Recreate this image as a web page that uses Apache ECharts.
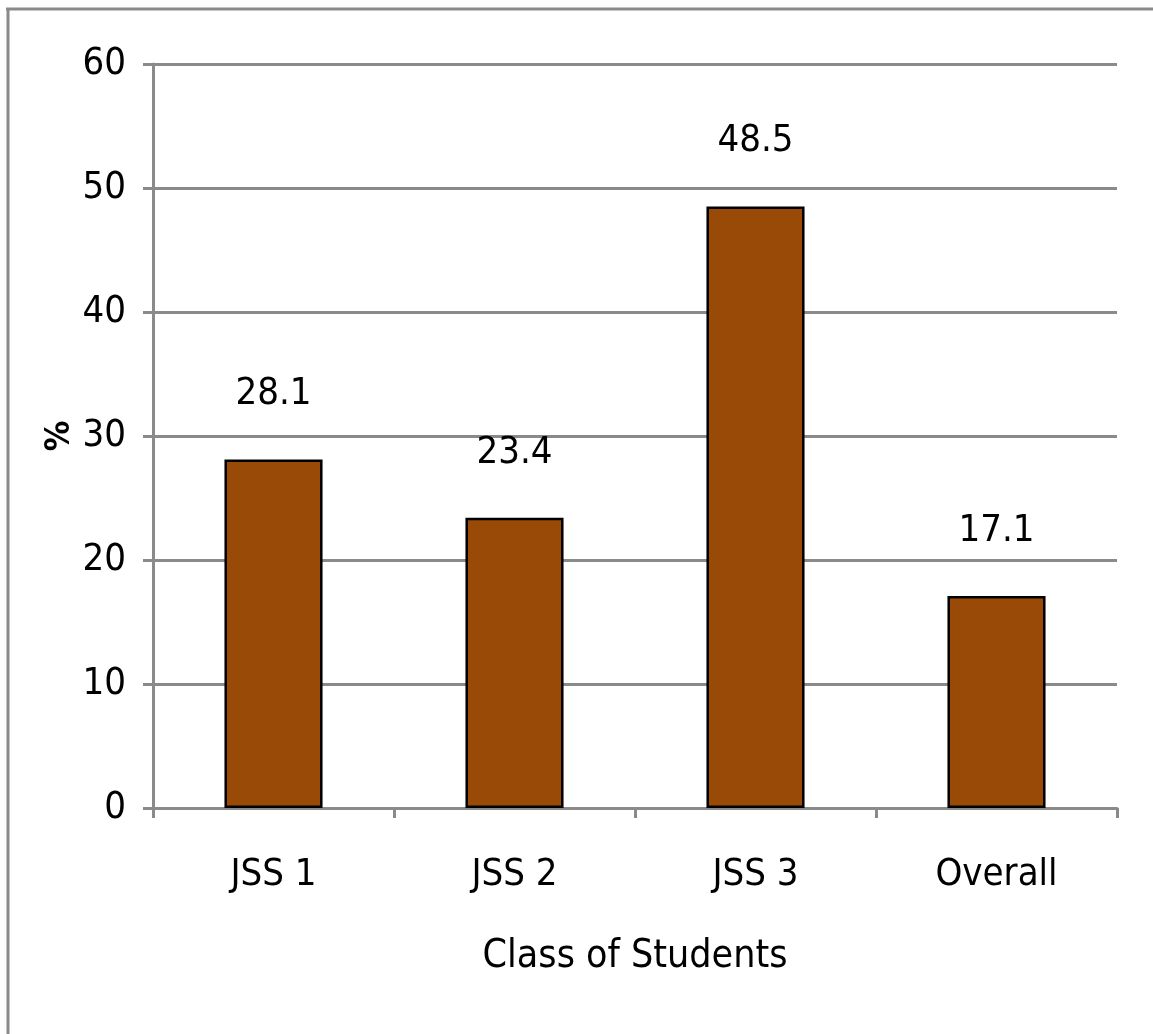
<!DOCTYPE html>
<html>
<head>
<meta charset="utf-8">
<title>Class of Students</title>
<script src="https://cdn.jsdelivr.net/npm/echarts@6/dist/echarts.min.js"></script>
<style>
  html, body { margin: 0; padding: 0; background: #ffffff; }
  #chart { width: 1153px; height: 1034px; }
</style>
</head>
<body>
<div id="chart"></div>
<script>
// Share of students per class (%)
const categories = ['JSS 1', 'JSS 2', 'JSS 3', 'Overall'];
const percentValues = [28.1, 23.4, 48.5, 17.1];
const yTicks = [0, 10, 20, 30, 40, 50, 60];

const FONT = '"Liberation Sans Narrow", "DejaVu Sans Condensed", "Roboto Condensed", sans-serif';
const GRAY = '#8a8a8a';

const chart = echarts.init(document.getElementById('chart'), null, { renderer: 'canvas' });

chart.setOption({
  animation: false,
  backgroundColor: '#ffffff',
  textStyle: { fontFamily: FONT, color: '#000' },
  grid: { left: 153, right: 36, top: 64, bottom: 226, containLabel: false },
  // outer frame of the chart area (top and left edges)
  graphic: [
    { type: 'line', shape: { x1: 6, y1: 9, x2: 1153, y2: 9 }, style: { stroke: GRAY, lineWidth: 3 } },
    { type: 'line', shape: { x1: 8, y1: 8, x2: 8, y2: 1034 }, style: { stroke: GRAY, lineWidth: 3 } }
  ],
  xAxis: {
    type: 'category',
    data: categories,
    name: 'Class of Students',
    nameLocation: 'middle',
    nameGap: 129,
    nameTextStyle: { fontFamily: FONT, fontSize: 39, color: '#000' },
    axisLine: { show: true, lineStyle: { color: GRAY, width: 3 } },
    axisTick: { show: true, length: 10, lineStyle: { color: GRAY, width: 3 } },
    axisLabel: { fontFamily: FONT, fontSize: 38, color: '#000', margin: 48 }
  },
  yAxis: {
    type: 'value',
    min: yTicks[0],
    max: yTicks[yTicks.length - 1],
    interval: yTicks[1] - yTicks[0],
    name: '%',
    nameLocation: 'middle',
    nameRotate: 90,
    nameGap: 76,
    nameMoveOverlap: false,
    nameTextStyle: { fontFamily: FONT, fontSize: 34, fontWeight: 'bold', color: '#000' },
    axisLine: { show: true, lineStyle: { color: GRAY, width: 3 } },
    axisTick: { show: true, length: 10, lineStyle: { color: GRAY, width: 3 } },
    axisLabel: { fontFamily: FONT, fontSize: 38, color: '#000', margin: 27 },
    splitLine: { show: true, lineStyle: { color: GRAY, width: 3 } }
  },
  series: [{
    type: 'bar',
    data: percentValues,
    barWidth: '40.7%',
    itemStyle: { color: '#994a07', borderColor: '#000', borderWidth: 2.5 },
    label: {
      show: true,
      position: 'top',
      distance: 46,
      fontFamily: FONT,
      fontSize: 38,
      color: '#000',
      formatter: p => p.value.toFixed(1)
    }
  }]
});
</script>
</body>
</html>
